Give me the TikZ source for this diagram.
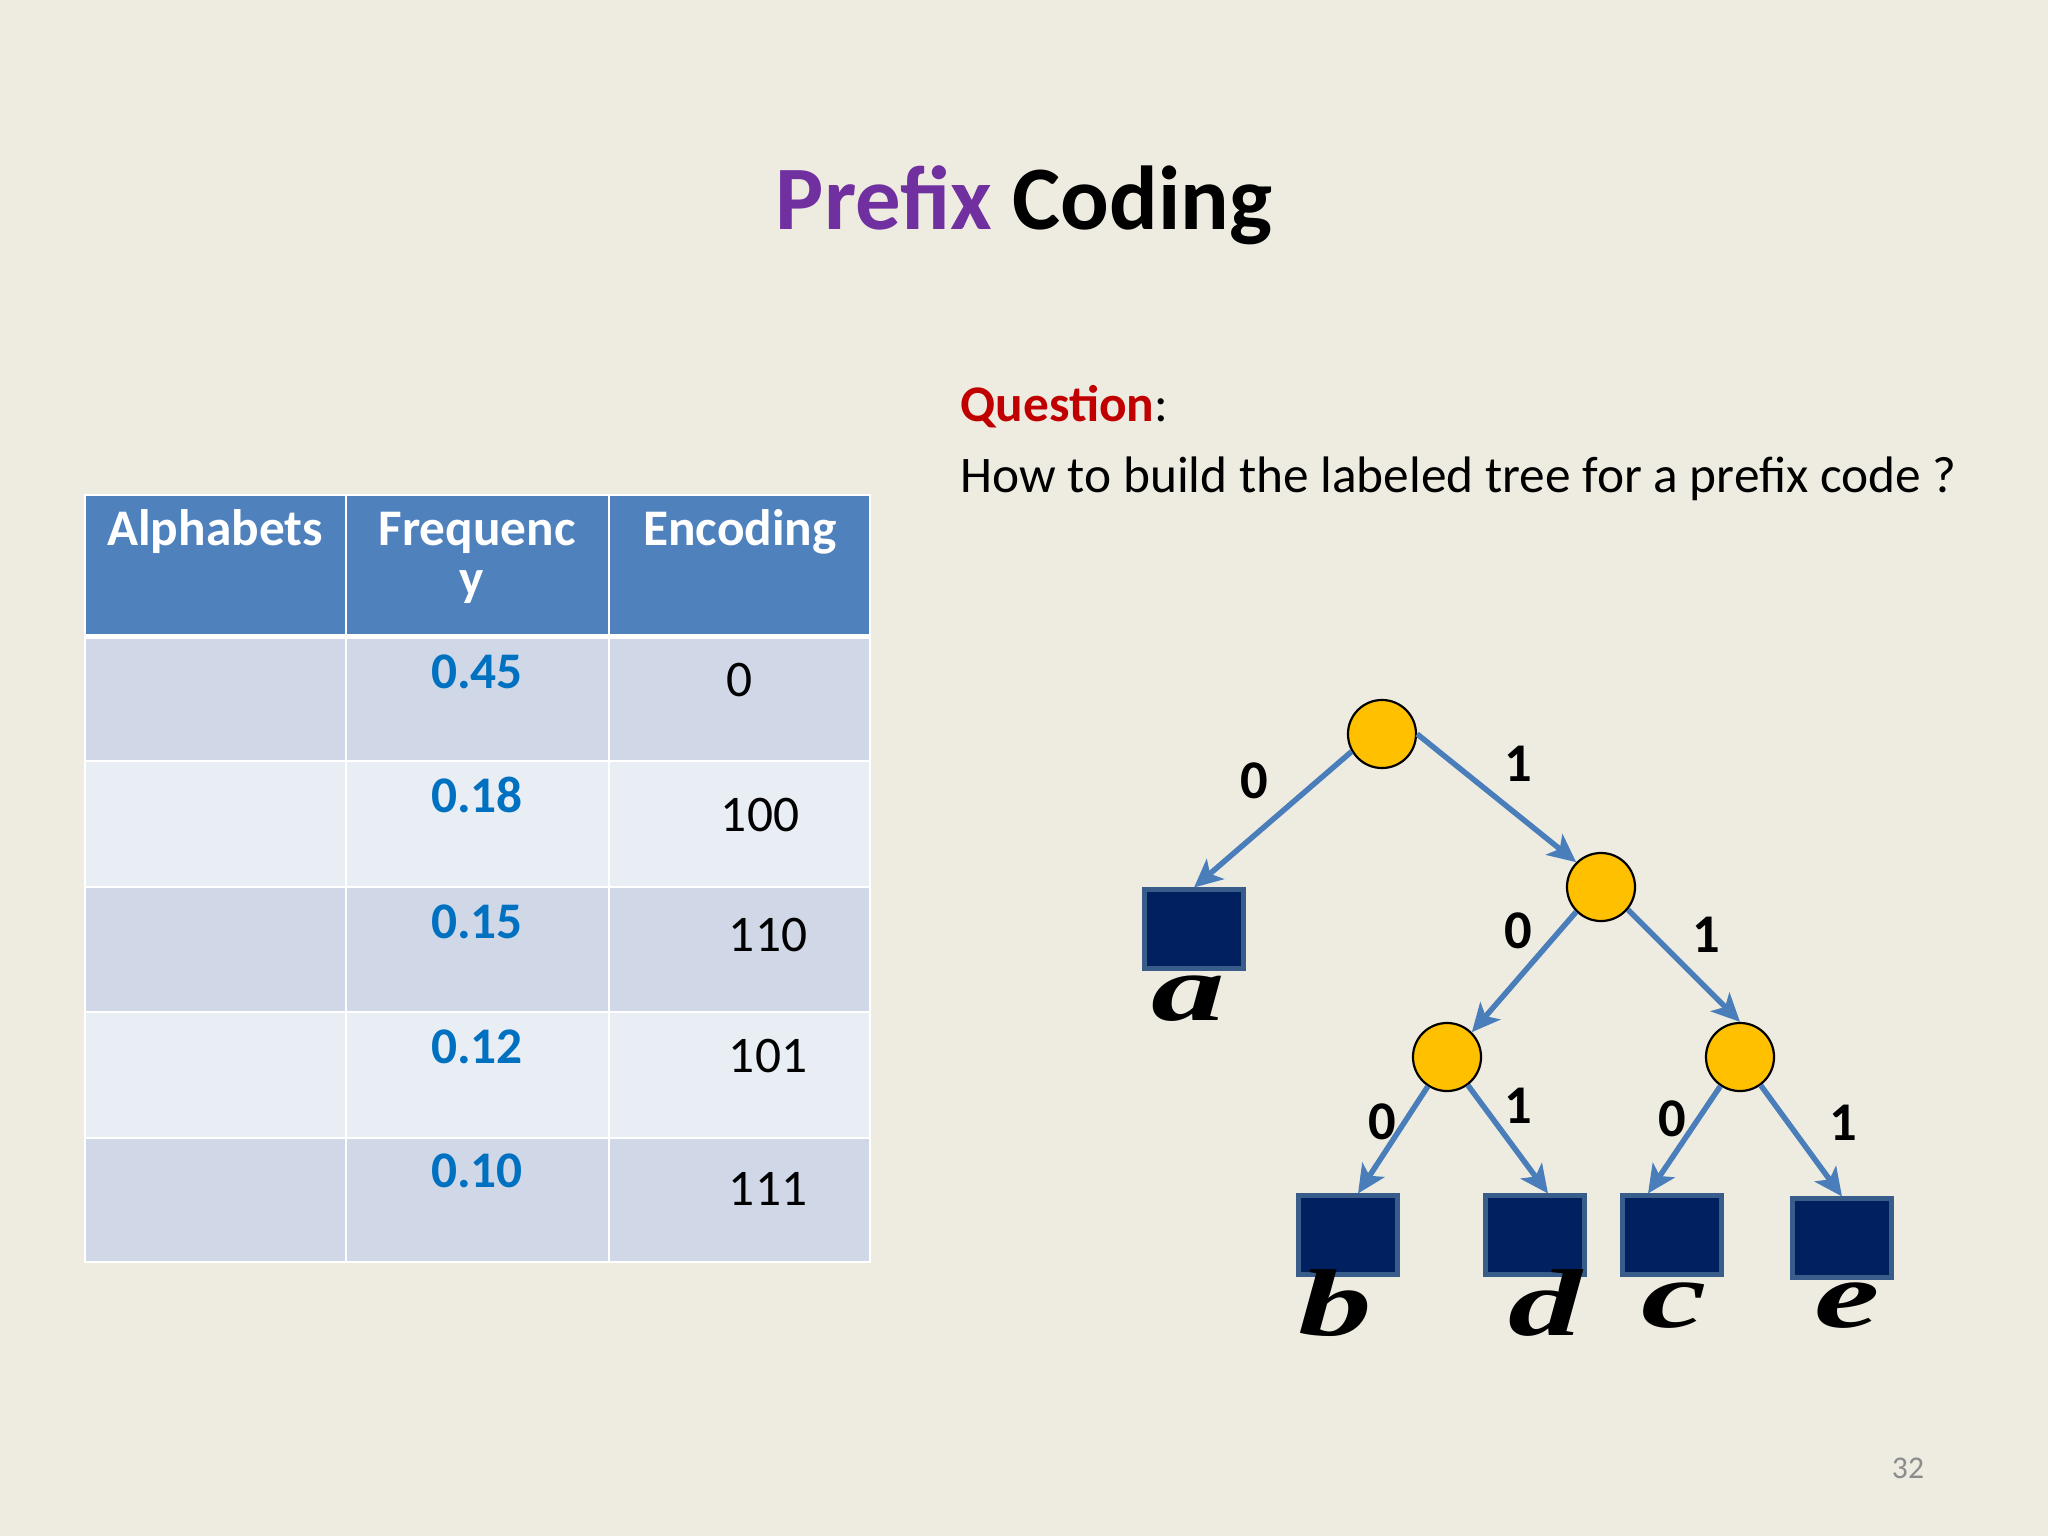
\documentclass[tikz,border=0pt]{standalone}
\usepackage{fontspec}
\setmainfont{Carlito}
\newfontfamily\letterfont{Liberation Serif}
\usetikzlibrary{arrows.meta,calc}
\definecolor{bg}{HTML}{EEECE1}
\definecolor{hdr}{HTML}{4F81BD}
\definecolor{rowA}{HTML}{D0D8E8}
\definecolor{rowB}{HTML}{E9EDF4}
\definecolor{freqblue}{HTML}{0070C0}
\definecolor{titlepurple}{HTML}{7030A0}
\definecolor{qred}{HTML}{C00000}
\definecolor{edgeblue}{HTML}{4A7EBB}
\definecolor{navy}{HTML}{002060}
\definecolor{sqborder}{HTML}{385D8A}
\definecolor{gold}{HTML}{FFC000}
\definecolor{pagegray}{HTML}{8C8C8C}
\tikzset{
  cellline/.style={draw=white, line width=0.025cm},
  hdrtext/.style={anchor=base, text=white, font=\fontsize{14.6}{17}\selectfont\bfseries, inner sep=0pt},
  freqtext/.style={anchor=base, text=freqblue, font=\fontsize{14.6}{17}\selectfont\bfseries, inner sep=0pt},
  enctext/.style={anchor=base, text=black, font=\fontsize{14.6}{17}\selectfont, inner sep=0pt},
  inner/.style={circle, draw=black, line width=0.022cm, fill=gold, minimum size=0.68cm, inner sep=0pt},
  leaf/.style={rectangle, draw=sqborder, line width=0.05cm, fill=navy, minimum width=0.98cm, minimum height=0.78cm, inner sep=0pt},
  edge/.style={draw=edgeblue, line width=0.055cm, -{Stealth[length=8pt,width=7.5pt,inset=2pt]}},
  bitlabel/.style={font=\fontsize{15.5}{18}\selectfont\bfseries, inner sep=0pt},
  leafletter/.style={font=\fontsize{27}{31}\selectfont\letterfont\bfseries\itshape, xscale=1.55, inner sep=0pt}
}
\begin{document}
\begin{tikzpicture}[x=0.01cm,y=-0.01cm]
\fill[bg] (0,0) rectangle (2048,1536);
\useasboundingbox (0,0) rectangle (2048,1536);

% Title
\node[anchor=base, inner sep=0pt, font=\fontsize{25.8}{31}\selectfont\bfseries] (title) at (1024,229)
  {\textcolor{titlepurple}{Prefix} Coding};

% Table
\fill[hdr] (85,495) rectangle (870,635);
\fill[rowA] (85,635) rectangle (870,761);
\fill[rowB] (85,761) rectangle (870,887);
\fill[rowA] (85,887) rectangle (870,1012);
\fill[rowB] (85,1012) rectangle (870,1138);
\fill[rowA] (85,1138) rectangle (870,1262);
\draw[cellline] (85,495) rectangle (870,1262);
\draw[cellline] (346,495) -- (346,1262);
\draw[cellline] (609,495) -- (609,1262);
\draw[draw=white, line width=0.05cm] (85,636) -- (870,636);
\foreach \yy in {761,887,1012,1138} { \draw[cellline] (85,\yy) -- (870,\yy); }

\node[hdrtext] (h1) at (215,545) {Alphabets};
\node[hdrtext] (h2) at (477,545) {Frequenc};
\node[hdrtext] (h2b) at (472,595) {y};
\node[hdrtext] (h3) at (740,545) {Encoding};

\node[freqtext] (f1) at (477,688) {0.45};
\node[freqtext] (f2) at (477,812) {0.18};
\node[freqtext] (f3) at (477,938) {0.15};
\node[freqtext] (f4) at (477,1063) {0.12};
\node[freqtext] (f5) at (477,1187) {0.10};

\node[enctext] (e1) at (740,696) {0};
\node[enctext] (e2) at (760,831) {100};
\node[enctext] (e3) at (768,951) {110};
\node[enctext] (e4) at (768,1072) {101};
\node[enctext] (e5) at (768,1205) {111};

% Question
\node[anchor=base west, inner sep=0pt, font=\fontsize{14.6}{17}\selectfont] (q1) at (960,421)
  {\textcolor{qred}{\bfseries Question}:};
\node[anchor=base west, inner sep=0pt, font=\fontsize{14.6}{17}\selectfont] (q2) at (960,492)
  {How to build the labeled tree for a prefix code ?};

% Tree
\node[inner] (root) at (1382,734) {};
\node[inner] (n1) at (1601,887) {};
\node[inner] (n10) at (1447,1057) {};
\node[inner] (n11) at (1740,1057) {};

\node[leaf] (a) at (1194,929) {};
\node[leaf] (b) at (1348,1235) {};
\node[leaf] (d) at (1535,1235) {};
\node[leaf] (c) at (1672,1235) {};
\node[leaf] (e) at (1842,1238) {};

\draw[edge] (root.210) -- (a.north);
\draw[edge] (root.east) -- (n1.north west);
\draw[edge] (n1.225) -- (n10.north east);
\draw[edge] (n1.-40) -- (n11.north);
\draw[edge] (n10) -- ($(b.north)+(10,0)$);
\draw[edge] (n10) -- ($(d.north)+(13,0)$);
\draw[edge] (n11) -- ($(c.north)+(-24,0)$);
\draw[edge] (n11) -- (e.north);

\node[bitlabel] (l0a) at (1254,781) {0};
\node[bitlabel] (l1a) at (1518,764) {1};
\node[bitlabel] (l0b) at (1518,931) {0};
\node[bitlabel] (l1b) at (1706,935) {1};
\node[bitlabel] (l0c) at (1382,1122) {0};
\node[bitlabel] (l1c) at (1518,1106) {1};
\node[bitlabel] (l0d) at (1672,1119) {0};
\node[bitlabel] (l1d) at (1843,1123) {1};

\node[leafletter] (la) at (1188,999) {a};
\node[leafletter] (lb) at (1335,1303) {b};
\node[leafletter] (ld) at (1545,1303) {d};
\node[leafletter] (lc) at (1674,1306) {c};
\node[leafletter] (le) at (1847,1306) {e};

% page number
\node[anchor=base, inner sep=0pt, text=pagegray, font=\fontsize{9}{11}\selectfont] (pg) at (1908,1478) {32};
\end{tikzpicture}
\end{document}
